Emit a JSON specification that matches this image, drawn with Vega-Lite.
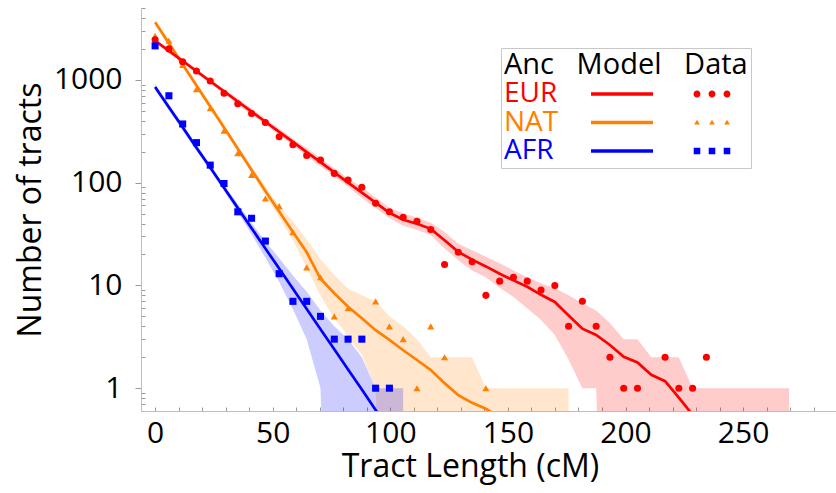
{
  "$schema": "https://vega.github.io/schema/vega-lite/v6.json",
  "width": 695,
  "height": 403,
  "autosize": {"type": "none"},
  "padding": {"left": 141, "top": 8, "right": 0, "bottom": 82},
  "background": "white",
  "config": {
    "font": "Open Sans",
    "view": {"stroke": null},
    "axis": {
      "domainColor": "#bdbdbd",
      "tickColor": "#9a9a9a",
      "labelColor": "black",
      "titleColor": "black",
      "labelFont": "Open Sans",
      "titleFont": "Open Sans",
      "labelFontSize": 30,
      "titleFontSize": 32,
      "titleFontWeight": "normal",
      "grid": false
    },
    "legend": {
      "titleFont": "Open Sans",
      "labelFont": "Open Sans",
      "titleFontWeight": "normal",
      "titleColor": "black"
    }
  },
  "data": {
    "values": [
      {"a": "NAT", "x": 0, "obs": 2675, "mod": 3630, "lo": 3388, "hi": 3890},
      {"a": "NAT", "x": 5.86, "obs": 2400, "mod": 2265, "lo": 2114, "hi": 2427},
      {"a": "NAT", "x": 11.72, "obs": 1400, "mod": 1413, "lo": 1319, "hi": 1514},
      {"a": "NAT", "x": 17.58, "obs": 810, "mod": 881, "lo": 822, "hi": 944},
      {"a": "NAT", "x": 23.44, "obs": 529, "mod": 550, "lo": 513, "hi": 589},
      {"a": "NAT", "x": 29.3, "obs": 320, "mod": 343, "lo": 320, "hi": 368},
      {"a": "NAT", "x": 35.16, "obs": 193, "mod": 214, "lo": 200, "hi": 229},
      {"a": "NAT", "x": 41.02, "obs": 119, "mod": 133, "lo": 124, "hi": 143},
      {"a": "NAT", "x": 46.88, "obs": 70, "mod": 83, "lo": 74, "hi": 91},
      {"a": "NAT", "x": 52.74, "obs": 59, "mod": 52.5, "lo": 46, "hi": 59},
      {"a": "NAT", "x": 58.6, "obs": 33, "mod": 33, "lo": 27.5, "hi": 42},
      {"a": "NAT", "x": 64.46, "obs": 15, "mod": 21, "lo": 15, "hi": 28},
      {"a": "NAT", "x": 70.32, "obs": 12, "mod": 11.6, "lo": 7.9, "hi": 18},
      {"a": "NAT", "x": 76.18, "obs": 5, "mod": 8.4, "lo": 4.8, "hi": 12.6},
      {"a": "NAT", "x": 82.04, "obs": 6, "mod": 6.2, "lo": 3.2, "hi": 9.3},
      {"a": "NAT", "x": 87.9, "obs": null, "mod": 4.8, "lo": 2.1, "hi": 8},
      {"a": "NAT", "x": 93.76, "obs": 7, "mod": 3.67, "lo": 1, "hi": 7},
      {"a": "NAT", "x": 99.62, "obs": 4, "mod": 2.95, "lo": 0.0001, "hi": 5},
      {"a": "NAT", "x": 105.48, "obs": 3, "mod": 2.34, "lo": 0.0001, "hi": 4},
      {"a": "NAT", "x": 111.34, "obs": 1, "mod": 1.88, "lo": 0.0001, "hi": 3},
      {"a": "NAT", "x": 117.2, "obs": 4, "mod": 1.5, "lo": 0.0001, "hi": 2},
      {"a": "NAT", "x": 123.06, "obs": 2, "mod": 1.12, "lo": 0.0001, "hi": 2},
      {"a": "NAT", "x": 128.92, "obs": null, "mod": 0.855, "lo": 0.0001, "hi": 2},
      {"a": "NAT", "x": 134.78, "obs": null, "mod": 0.72, "lo": 0.0001, "hi": 2},
      {"a": "NAT", "x": 140.64, "obs": 1, "mod": 0.63, "lo": 0.0001, "hi": 1},
      {"a": "NAT", "x": 146.5, "obs": null, "mod": 0.52, "lo": 0.0001, "hi": 1},
      {"a": "NAT", "x": 152.36, "obs": null, "mod": null, "lo": 0.0001, "hi": 1},
      {"a": "NAT", "x": 158.22, "obs": null, "mod": null, "lo": 0.0001, "hi": 1},
      {"a": "NAT", "x": 164.08, "obs": null, "mod": null, "lo": 0.0001, "hi": 1},
      {"a": "NAT", "x": 169.94, "obs": null, "mod": null, "lo": 0.0001, "hi": 1},
      {"a": "NAT", "x": 175.8, "obs": null, "mod": null, "lo": 0.0001, "hi": 1},

      {"a": "EUR", "x": 0, "obs": 2450, "mod": 2399, "lo": 2291, "hi": 2512},
      {"a": "EUR", "x": 5.86, "obs": 2000, "mod": 1912, "lo": 1826, "hi": 2002},
      {"a": "EUR", "x": 11.72, "obs": 1500, "mod": 1525, "lo": 1456, "hi": 1597},
      {"a": "EUR", "x": 17.58, "obs": 1220, "mod": 1215, "lo": 1160, "hi": 1272},
      {"a": "EUR", "x": 23.44, "obs": 975, "mod": 969, "lo": 925, "hi": 1015},
      {"a": "EUR", "x": 29.3, "obs": 740, "mod": 772, "lo": 737, "hi": 808},
      {"a": "EUR", "x": 35.16, "obs": 585, "mod": 616, "lo": 575, "hi": 660},
      {"a": "EUR", "x": 41.02, "obs": 470, "mod": 491, "lo": 458, "hi": 526},
      {"a": "EUR", "x": 46.88, "obs": 385, "mod": 391, "lo": 365, "hi": 419},
      {"a": "EUR", "x": 52.74, "obs": 280, "mod": 312, "lo": 291, "hi": 334},
      {"a": "EUR", "x": 58.6, "obs": 234, "mod": 249, "lo": 232, "hi": 267},
      {"a": "EUR", "x": 64.46, "obs": 184, "mod": 198, "lo": 181, "hi": 217},
      {"a": "EUR", "x": 70.32, "obs": 166, "mod": 158, "lo": 144, "hi": 173},
      {"a": "EUR", "x": 76.18, "obs": 123, "mod": 126, "lo": 115, "hi": 138},
      {"a": "EUR", "x": 82.04, "obs": 106, "mod": 100, "lo": 91, "hi": 110},
      {"a": "EUR", "x": 87.9, "obs": 90, "mod": 80, "lo": 71, "hi": 90},
      {"a": "EUR", "x": 93.76, "obs": 63, "mod": 63.8, "lo": 56.8, "hi": 71.6},
      {"a": "EUR", "x": 99.62, "obs": 52, "mod": 50.9, "lo": 45.4, "hi": 57.1},
      {"a": "EUR", "x": 105.48, "obs": 46, "mod": 43.6, "lo": 38, "hi": 50},
      {"a": "EUR", "x": 111.34, "obs": 42, "mod": 39.8, "lo": 34.7, "hi": 45.7},
      {"a": "EUR", "x": 117.2, "obs": 35, "mod": 35.5, "lo": 30.9, "hi": 40.8},
      {"a": "EUR", "x": 123.06, "obs": 16, "mod": 27.5, "lo": 22.8, "hi": 33},
      {"a": "EUR", "x": 128.92, "obs": 21, "mod": 21.2, "lo": 17.6, "hi": 25.4},
      {"a": "EUR", "x": 134.78, "obs": 17, "mod": 17.8, "lo": 14, "hi": 22},
      {"a": "EUR", "x": 140.64, "obs": 8, "mod": 15.3, "lo": 12, "hi": 19},
      {"a": "EUR", "x": 146.5, "obs": 11, "mod": 13, "lo": 9.5, "hi": 16.4},
      {"a": "EUR", "x": 152.36, "obs": 12, "mod": 11.2, "lo": 7.7, "hi": 14},
      {"a": "EUR", "x": 158.22, "obs": 11, "mod": 9.7, "lo": 6, "hi": 12},
      {"a": "EUR", "x": 164.08, "obs": 9, "mod": 8.1, "lo": 4.6, "hi": 10.5},
      {"a": "EUR", "x": 169.94, "obs": 10, "mod": 6.9, "lo": 3.3, "hi": 9.4},
      {"a": "EUR", "x": 175.8, "obs": 4, "mod": 5.1, "lo": 1.9, "hi": 8},
      {"a": "EUR", "x": 181.66, "obs": 7, "mod": 3.8, "lo": 1, "hi": 6.7},
      {"a": "EUR", "x": 187.52, "obs": 4, "mod": 3.3, "lo": 1, "hi": 5.7},
      {"a": "EUR", "x": 193.38, "obs": 2, "mod": 2.63, "lo": 0.0001, "hi": 4.3},
      {"a": "EUR", "x": 199.24, "obs": 1, "mod": 2.02, "lo": 0.0001, "hi": 3},
      {"a": "EUR", "x": 205.1, "obs": 1, "mod": 1.78, "lo": 0.0001, "hi": 3},
      {"a": "EUR", "x": 210.96, "obs": null, "mod": 1.35, "lo": 0.0001, "hi": 2},
      {"a": "EUR", "x": 216.82, "obs": 2, "mod": 1.17, "lo": 0.0001, "hi": 2},
      {"a": "EUR", "x": 222.68, "obs": 1, "mod": 0.81, "lo": 0.0001, "hi": 2},
      {"a": "EUR", "x": 228.54, "obs": 1, "mod": 0.55, "lo": 0.0001, "hi": 1},
      {"a": "EUR", "x": 234.4, "obs": 2, "mod": 0.35, "lo": 0.0001, "hi": 1},
      {"a": "EUR", "x": 240.26, "obs": null, "mod": null, "lo": 0.0001, "hi": 1},
      {"a": "EUR", "x": 246.12, "obs": null, "mod": null, "lo": 0.0001, "hi": 1},
      {"a": "EUR", "x": 251.98, "obs": null, "mod": null, "lo": 0.0001, "hi": 1},
      {"a": "EUR", "x": 257.84, "obs": null, "mod": null, "lo": 0.0001, "hi": 1},
      {"a": "EUR", "x": 263.7, "obs": null, "mod": null, "lo": 0.0001, "hi": 1},
      {"a": "EUR", "x": 269.56, "obs": null, "mod": null, "lo": 0.0001, "hi": 1},

      {"a": "AFR", "x": 0, "obs": 2140, "mod": 851, "lo": 794, "hi": 912},
      {"a": "AFR", "x": 5.86, "obs": 700, "mod": 542, "lo": 506, "hi": 581},
      {"a": "AFR", "x": 11.72, "obs": 372, "mod": 345, "lo": 322, "hi": 370},
      {"a": "AFR", "x": 17.58, "obs": 245, "mod": 219, "lo": 204, "hi": 235},
      {"a": "AFR", "x": 23.44, "obs": 148, "mod": 140, "lo": 131, "hi": 150},
      {"a": "AFR", "x": 29.3, "obs": 98, "mod": 89, "lo": 83, "hi": 95},
      {"a": "AFR", "x": 35.16, "obs": 52, "mod": 56.5, "lo": 51.5, "hi": 62},
      {"a": "AFR", "x": 41.02, "obs": 45, "mod": 36, "lo": 31.4, "hi": 40.4},
      {"a": "AFR", "x": 46.88, "obs": 27, "mod": 22.9, "lo": 18.6, "hi": 26.9},
      {"a": "AFR", "x": 52.74, "obs": 13, "mod": 14.6, "lo": 10.8, "hi": 18.4},
      {"a": "AFR", "x": 58.6, "obs": 7, "mod": 9.27, "lo": 5.85, "hi": 12.5},
      {"a": "AFR", "x": 64.46, "obs": 7, "mod": 5.9, "lo": 3, "hi": 8.7},
      {"a": "AFR", "x": 70.32, "obs": 5, "mod": 3.75, "lo": 1, "hi": 5.7},
      {"a": "AFR", "x": 76.18, "obs": 3, "mod": 2.39, "lo": 0.0001, "hi": 4},
      {"a": "AFR", "x": 82.04, "obs": 3, "mod": 1.52, "lo": 0.0001, "hi": 3},
      {"a": "AFR", "x": 87.9, "obs": 3, "mod": 0.97, "lo": 0.0001, "hi": 2},
      {"a": "AFR", "x": 93.76, "obs": 1, "mod": 0.615, "lo": 0.0001, "hi": 1},
      {"a": "AFR", "x": 99.62, "obs": 1, "mod": 0.39, "lo": 0.0001, "hi": 1},
      {"a": "AFR", "x": 105.48, "obs": null, "mod": null, "lo": 0.0001, "hi": 1}
    ]
  },
  "encoding": {
    "x": {
      "field": "x",
      "type": "quantitative",
      "scale": {"domain": [-6, 289.5], "nice": false, "zero": false},
      "axis": {
        "values": [0,10,20,30,40,50,60,70,80,90,100,110,120,130,140,150,160,170,180,190,200,210,220,230,240,250,260,270,280],
        "labelExpr": "datum.value % 50 === 0 ? datum.label : ''",
        "labelOverlap": false,
        "labelFlush": false,
        "tickSize": -4,
        "labelPadding": 11,
        "title": "Tract Length (cM)",
        "titleX": 329,
        "titlePadding": 3
      }
    }
  },
  "layer": [
    {
      "transform": [{"filter": "isValid(datum.hi)"}],
      "mark": {"type": "area", "clip": true, "fillOpacity": 0.2, "interpolate": "linear"},
      "encoding": {
        "y": {
          "field": "hi",
          "type": "quantitative",
          "scale": {"type": "log", "domain": [0.6, 5000], "nice": false},
          "axis": {
            "values": [0.7,0.8,0.9,1,2,3,4,5,6,7,8,9,10,20,30,40,50,60,70,80,90,100,200,300,400,500,600,700,800,900,1000,2000,3000,4000,5000],
            "labelExpr": "datum.value == 1 || datum.value == 10 || datum.value == 100 || datum.value == 1000 ? datum.label : ''",
            "format": "d",
            "labelOverlap": false,
            "labelFlush": false,
            "tickSize": {"condition": {"test": "datum.value == 1 || datum.value == 10 || datum.value == 100 || datum.value == 1000", "value": 6}, "value": -4},
            "labelPadding": 13,
            "title": "Number of tracts",
            "titlePadding": 6
          }
        },
        "y2": {"field": "lo"},
        "color": {
          "field": "a",
          "type": "nominal",
          "sort": ["EUR", "NAT", "AFR"],
          "scale": {"range": ["#ff0000", "#ff8000", "#0000ff"]},
          "legend": {
            "orient": "none",
            "legendX": 360,
            "legendY": 40,
            "title": "Anc\u00a0\u00a0\u00a0Model\u00a0\u00a0\u00a0Data",
            "titleLimit": 500,
            "titleFontSize": 29,
            "titlePadding": 0,
            "labelFontSize": 28,
            "labelOffset": -28,
            "symbolOpacity": 0,
            "symbolSize": 1,
            "symbolStrokeWidth": 0,
            "rowPadding": 0.5,
            "padding": 3,
            "strokeColor": "#c8c8c8",
            "fillColor": "white",
            "encoding": {
              "labels": {
                "fill": {"value": {"expr": "datum.value === 'EUR' ? '#ff0000' : datum.value === 'NAT' ? '#ff8000' : '#0000ff'"}}
              }
            }
          }
        }
      }
    },
    {
      "transform": [{"filter": "isValid(datum.mod)"}],
      "mark": {"type": "line", "clip": true, "strokeWidth": 2.7},
      "encoding": {
        "y": {"field": "mod", "type": "quantitative"},
        "stroke": {
          "field": "a",
          "type": "nominal",
          "sort": ["EUR", "NAT", "AFR"],
          "scale": {"range": ["#ff0000", "#ff8000", "#0000ff"]},
          "legend": {
            "orient": "none",
            "legendX": 467,
            "legendY": 72,
            "title": null,
            "symbolType": "M-4,0H4",
            "symbolSize": 240,
            "symbolStrokeWidth": 3.3,
            "labelFontSize": 28,
            "labelExpr": "'\u00a0'",
            "labelOpacity": 0,
            "rowPadding": 0.5,
            "padding": 0
          }
        }
      }
    },
    {
      "transform": [{"filter": "isValid(datum.obs)"}],
      "mark": {"type": "point", "filled": true, "opacity": 1, "size": 50, "strokeWidth": 0, "clip": true},
      "encoding": {
        "y": {"field": "obs", "type": "quantitative"},
        "fill": {
          "field": "a",
          "type": "nominal",
          "sort": ["EUR", "NAT", "AFR"],
          "scale": {"range": ["#ff0000", "#ff8000", "#0000ff"]},
          "legend": {
            "orient": "none",
            "legendX": 557,
            "legendY": 72,
            "title": null,
            "symbolSize": 225,
            "symbolStrokeWidth": 0,
            "labelFontSize": 28,
            "labelExpr": "'\u00a0'",
            "labelOpacity": 0,
            "rowPadding": 0.5,
            "padding": 0,
            "encoding": {
              "symbols": {
                "shape": {"value": {"expr": "datum.value === 'EUR' ? 'M-2.467,0A0.467,0.467,0,1,0,-1.533,0A0.467,0.467,0,1,0,-2.467,0ZM-0.467,0A0.467,0.467,0,1,0,0.467,0A0.467,0.467,0,1,0,-0.467,0ZM1.533,0A0.467,0.467,0,1,0,2.467,0A0.467,0.467,0,1,0,1.533,0Z' : datum.value === 'NAT' ? 'M-2,-0.36L-1.62,0.28L-2.38,0.28ZM0,-0.36L0.38,0.28L-0.38,0.28ZM2,-0.36L2.38,0.28L1.62,0.28Z' : 'M-2.44,-0.44H-1.56V0.44H-2.44ZM-0.44,-0.44H0.44V0.44H-0.44ZM1.56,-0.44H2.44V0.44H1.56Z'"}}
              }
            }
          }
        },
        "shape": {
          "field": "a",
          "type": "nominal",
          "sort": ["EUR", "NAT", "AFR"],
          "scale": {"range": ["circle", "triangle-up", "square"]},
          "legend": null
        }
      }
    }
  ]
}
